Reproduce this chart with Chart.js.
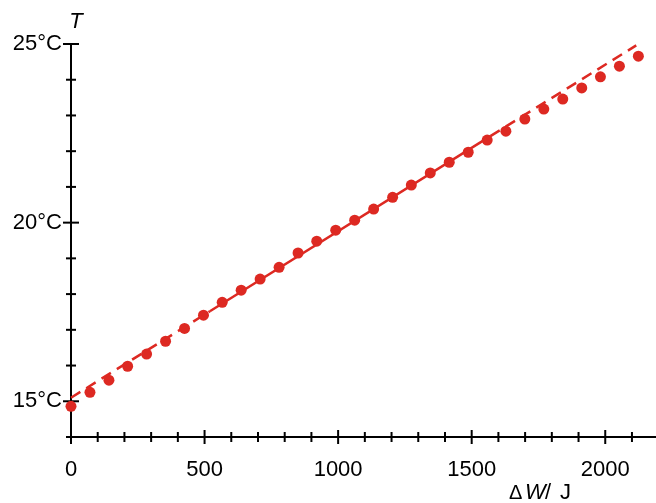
<!DOCTYPE html>
<html>
<head>
<meta charset="utf-8">
<script src="https://cdn.jsdelivr.net/npm/chart.js@4"></script>
<style>
    html, body { margin: 0; padding: 0; background: #fff; }
    #wrap { width: 656px; height: 503px; }
</style>
</head>
<body>
<div id="wrap"><canvas id="chart" width="656" height="503"></canvas></div>
<script>
// measured points: work done (J) and temperature (°C)
const workJ = [0, 71, 142, 212, 283, 354, 425, 496, 566, 637, 708, 779, 850, 920, 991, 1062,
    1133, 1204, 1274, 1345, 1416, 1487, 1558, 1628, 1699, 1770, 1841, 1912, 1982, 2053, 2124];
const tempC = [14.86, 15.25, 15.59, 15.98, 16.32, 16.68, 17.04, 17.41, 17.77, 18.11, 18.42, 18.75,
    19.15, 19.48, 19.79, 20.07, 20.38, 20.71, 21.05, 21.39, 21.69, 21.97, 22.31, 22.56,
    22.90, 23.18, 23.46, 23.77, 24.08, 24.38, 24.66];

// straight line through the linear part (solid in the middle, dashed outside)
const fitX = [0, 520, 1570, 2116];
const fitT = [15.10, 17.52, 22.42, 24.96];

// axis ticks
const xTicks = [0, 100, 200, 300, 400, 500, 600, 700, 800, 900, 1000, 1100, 1200, 1300,
    1400, 1500, 1600, 1700, 1800, 1900, 2000, 2100];
const xLabels = [0, 500, 1000, 1500, 2000];
const yTicks = [14, 15, 16, 17, 18, 19, 20, 21, 22, 23, 24, 25];
const yLabels = [15, 20, 25];

const red = '#dd2922';
const font = '"Liberation Sans", Arial, sans-serif';

const axisMarks = {
    id: 'axisMarks',
    beforeDatasetsDraw(chart) {
        const ctx = chart.ctx;
        const xs = chart.scales.x;
        const ys = chart.scales.y;
        const x0 = xs.getPixelForValue(0);
        const y0 = ys.getPixelForValue(14);
        ctx.save();
        ctx.strokeStyle = '#000';
        ctx.lineWidth = 2;
        xTicks.forEach(v => {
            const px = xs.getPixelForValue(v);
            const big = xLabels.includes(v);
            ctx.beginPath();
            ctx.moveTo(px, y0 - (big ? 7 : 5));
            ctx.lineTo(px, y0 + (big ? 7 : 5));
            ctx.stroke();
        });
        yTicks.forEach(v => {
            const py = ys.getPixelForValue(v);
            const big = yLabels.includes(v);
            ctx.beginPath();
            ctx.moveTo(x0 - (big ? 8 : 5), py);
            ctx.lineTo(x0 + (big ? 8 : 5), py);
            ctx.stroke();
        });
        ctx.restore();
    },
    afterDraw(chart) {
        const ctx = chart.ctx;
        ctx.save();
        ctx.fillStyle = '#000';
        ctx.textBaseline = 'alphabetic';
        // y axis symbol
        ctx.font = 'italic 22px ' + font;
        ctx.textAlign = 'center';
        ctx.fillText('T', 76, 28);
        // x axis title: ΔW/ J
        const y = 499;
        ctx.textAlign = 'left';
        ctx.font = '20px ' + font;
        ctx.fillText('\u0394', 509, y);
        ctx.font = 'italic 22px ' + font;
        ctx.fillText('W', 525, y);
        ctx.font = '22px ' + font;
        ctx.fillText('/', 545, y);
        ctx.fillText('J', 560, y);
        ctx.restore();
    }
};

new Chart(document.getElementById('chart'), {
    type: 'scatter',
    data: {
        datasets: [
            {
                type: 'line',
                data: fitX.map((v, i) => ({ x: v, y: fitT[i] })),
                borderColor: red,
                borderWidth: 2.5,
                pointRadius: 0,
                clip: false,
                segment: {
                    borderDash: c => (c.p0DataIndex === 1 ? [] : [11, 7])
                }
            },
            {
                data: workJ.map((v, i) => ({ x: v, y: tempC[i] })),
                backgroundColor: red,
                borderWidth: 0,
                pointRadius: 5.5,
                clip: false
            }
        ]
    },
    options: {
        responsive: false,
        animation: false,
        layout: {
            autoPadding: false,
            padding: { top: 44, right: 0, left: 0, bottom: 0 }
        },
        plugins: {
            legend: { display: false },
            tooltip: { enabled: false }
        },
        scales: {
            x: {
                type: 'linear',
                min: 0,
                max: 2190,
                afterBuildTicks: s => { s.ticks = xTicks.map(v => ({ value: v })); },
                afterFit: s => {
                    s.height = 66;
                    s.paddingLeft = 0;
                    s.paddingRight = 0;
                },
                grid: { display: false, drawTicks: false },
                border: { display: true, color: '#000', width: 2 },
                ticks: {
                    autoSkip: false,
                    maxRotation: 0,
                    padding: 20,
                    color: '#000',
                    font: { family: font, size: 22 },
                    callback: v => (xLabels.includes(v) ? String(v) : '')
                }
            },
            y: {
                type: 'linear',
                min: 14,
                max: 25,
                afterBuildTicks: s => { s.ticks = yTicks.map(v => ({ value: v })); },
                afterFit: s => {
                    s.width = 71;
                    s.paddingTop = 0;
                    s.paddingBottom = 0;
                },
                grid: { display: false, drawTicks: false },
                border: { display: true, color: '#000', width: 2 },
                ticks: {
                    autoSkip: false,
                    padding: 9,
                    color: '#000',
                    font: { family: font, size: 22 },
                    callback: v => (yLabels.includes(v) ? v + '°C' : '')
                }
            }
        }
    },
    plugins: [axisMarks]
});
</script>
</body>
</html>
